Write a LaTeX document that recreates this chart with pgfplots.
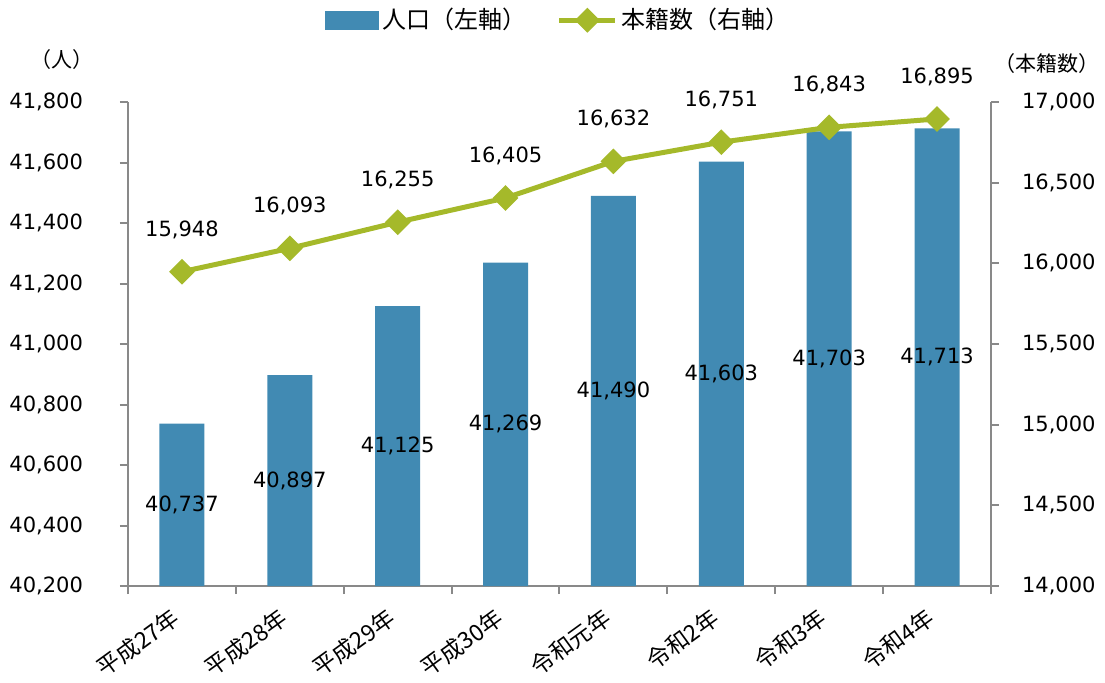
\documentclass[border=0pt]{standalone}
\usepackage{fontspec}
\setmainfont{DejaVu Sans}
\newfontfamily\jp{Noto Sans CJK JP}
\usepackage{pgfplots}
\usepackage{pgfplotstable}
\pgfplotsset{compat=1.18}
\definecolor{barblue}{HTML}{418AB3}
\definecolor{lineg}{HTML}{A5B92A}
\definecolor{axgray}{HTML}{898989}
\pgfplotsset{/pgf/number format/.cd, 1000 sep={,}, assume math mode=true}

\pgfplotstableread{
x pop honseki
0 40737 15948
1 40897 16093
2 41125 16255
3 41269 16405
4 41490 16632
5 41603 16751
6 41703 16843
7 41713 16895
}\data

\begin{document}
\begin{tikzpicture}[font=\fontsize{10.5}{12}\selectfont]
\path[use as bounding box] (-64pt,-48pt) rectangle (488.5pt,293pt);
\begin{axis}[
  scale only axis, width=431.5pt, height=242pt,
  at={(0,0)}, anchor=south west,
  xmin=-0.5, xmax=7.5, ymin=40200, ymax=41800,
  ytick={40200,40400,...,41800},
  scaled ticks=false,
  clip mode=individual,
  axis x line*=bottom, axis y line*=left,
  axis line style={axgray, line width=1pt},
  every tick/.style={axgray, line width=1pt},
  tick align=outside,
  major tick length=4pt, minor tick length=4pt,
  xtick={0,...,7},
  major x tick style={draw=none},
  minor xtick={-0.5,0.5,...,7.5},
  xticklabels={平成27年,平成28年,平成29年,平成30年,令和元年,令和2年,令和3年,令和4年},
  x tick label style={font=\jp\fontsize{11.5}{13}\selectfont, rotate=36, anchor=north east, yshift=2pt, xshift=-5pt},
  y tick label style={xshift=-15pt},
]
\addplot[ybar, bar width=22.5pt, fill=barblue, draw=none] table[x=x, y=pop] {\data};
\addplot[draw=none, mark=none, nodes near coords, point meta=explicit,
  nodes near coords style={anchor=center, text=black}]
  table[x=x, y expr={(\thisrow{pop}+40200)/2}, meta=pop] {\data};
\node[font=\jp\fontsize{10.5}{12}\selectfont] at (axis description cs:-0.076,1.087) {（人）};
\end{axis}
\begin{axis}[
  scale only axis, width=431.5pt, height=242pt,
  at={(0,0)}, anchor=south west,
  xmin=-0.5, xmax=7.5, ymin=14000, ymax=17000,
  ytick={14000,14500,...,17000},
  scaled ticks=false,
  axis y line*=right, axis x line=none,
  axis line style={axgray, line width=1pt},
  every tick/.style={axgray, line width=1pt},
  tick align=outside, major tick length=4pt,
  y tick label style={xshift=8pt},
  clip=false,
  legend style={at={(0.5,1.169)}, anchor=center, draw=none, legend columns=2,
    font=\jp\fontsize{12}{14}\selectfont,
    /tikz/every even column/.append style={column sep=13pt}},
  legend cell align=left,
]
\addlegendimage{legend image code/.code={\fill[barblue] (0pt,-4.5pt) rectangle (26.5pt,4.5pt);}}
\addlegendentry{人口（左軸）}
\addplot[lineg, line width=2.5pt, mark=square*, mark size=3.3pt,
  mark options={rotate=45, solid},
  nodes near coords, point meta=explicit,
  nodes near coords style={text=black, anchor=center, yshift=21pt, rotate=0},
  legend image code/.code={
    \draw[lineg, line width=2.5pt] (0pt,0pt) -- (28pt,0pt);
    \fill[lineg] (14pt,4.5pt) -- (18.5pt,0pt) -- (14pt,-4.5pt) -- (9.5pt,0pt) -- cycle;}]
  table[x=x, y=honseki, meta=honseki] {\data};
\addlegendentry{本籍数（右軸）}
\node[font=\jp\fontsize{10.5}{12}\selectfont] at (axis description cs:1.065,1.08) {（本籍数）};
\end{axis}
\end{tikzpicture}
\end{document}
